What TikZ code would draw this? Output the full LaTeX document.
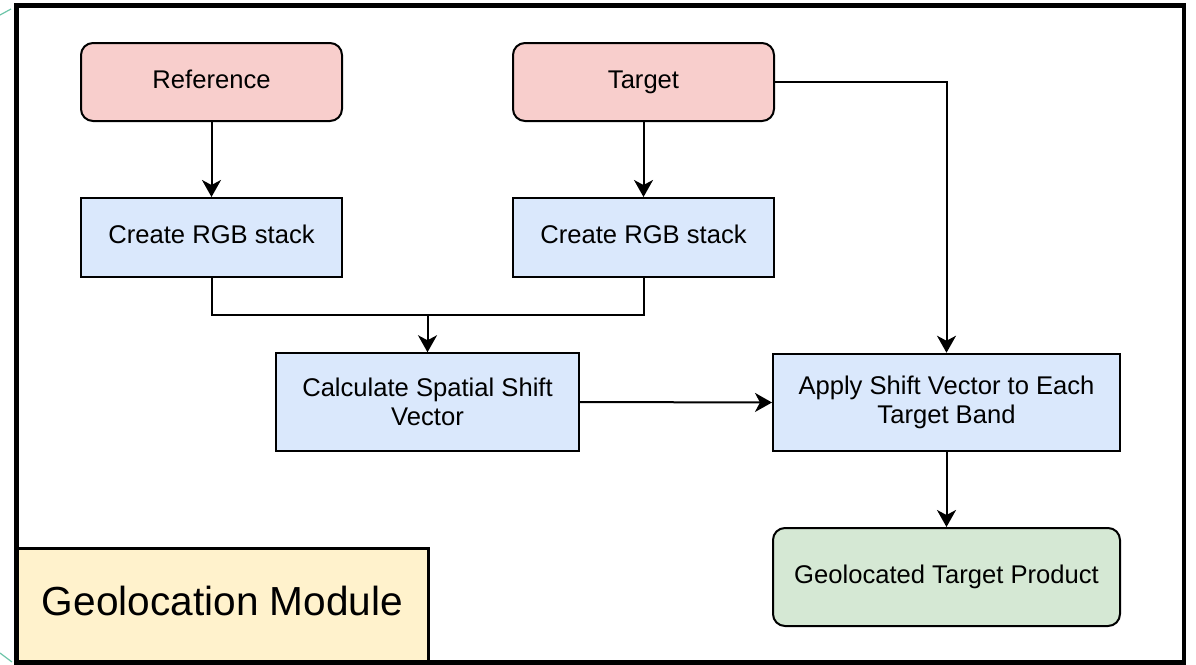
\documentclass[tikz,border=0pt]{standalone}
\usepackage{fontspec}
\setmainfont{Liberation Sans}
\usetikzlibrary{arrows.meta}
\definecolor{pinkfill}{HTML}{F8CECC}
\definecolor{bluefill}{HTML}{DAE8FC}
\definecolor{greenfill}{HTML}{D5E8D4}
\definecolor{yellowfill}{HTML}{FFF2CC}
\definecolor{tealline}{HTML}{6CC4A8}
\tikzset{
  basebox/.style={draw=black, line width=1pt, align=center, inner sep=2pt,
    font=\fontsize{12.8}{14.5}\selectfont},
  oneline/.style={text height=9.3pt, text depth=2.9pt},
  roundbox/.style={basebox, rounded corners=6pt},
  inbox/.style={roundbox, oneline, fill=pinkfill, minimum width=130.5pt, minimum height=39pt},
  rgbbox/.style={basebox, oneline, fill=bluefill, minimum width=130.5pt, minimum height=39.5pt},
  procbox/.style={basebox, fill=bluefill, minimum height=48.75pt},
  outbox/.style={roundbox, oneline, fill=greenfill, minimum width=173.5pt, minimum height=49pt},
  conn/.style={line width=1pt, draw=black},
  arr/.style={conn, -{Stealth[length=8.5pt, width=9.5pt, inset=2.5pt]}},
}
\begin{document}
\begin{tikzpicture}[x=0.5pt, y=-0.5pt]
\useasboundingbox (0,0) rectangle (1196,665);
% nodes
\node[inbox] (ref) at (211.5,82) {Reference};
\node[inbox] (tgt) at (643.5,82) {Target};
\node[rgbbox] (rgbL) at (211.5,237.5) {Create RGB stack};
\node[rgbbox] (rgbR) at (643.5,237.5) {Create RGB stack};
\node[procbox, minimum width=151.5pt] (calc) at (427.5,402) {Calculate Spatial Shift\\Vector};
\node[procbox, minimum width=173.5pt] (apply) at (946.5,402.5) {Apply Shift Vector to Each\\Target Band};
\node[outbox] (geo) at (946.5,577) {Geolocated Target Product};
\coordinate (merge) at (427.5,315);
% connectors
\draw[arr] (ref.south) -- (rgbL.north);
\draw[arr] (tgt.south) -- (rgbR.north);
\draw[conn] (rgbL.south) |- (merge);
\draw[conn] (rgbR.south) |- (merge);
\draw[arr] (merge) -- (calc.north);
\draw[arr] (tgt.east) -| (apply.north);
\draw[arr] (calc.east) -- (apply.west);
\draw[arr] (apply.south) -- (geo.north);
% module label
\node[draw=black, line width=1.5pt, fill=yellowfill, minimum width=205.5pt, minimum height=57.5pt,
  font=\fontsize{20.3}{24}\selectfont, text height=14.7pt, text depth=4.3pt] (module) at (222.5,605.5) {Geolocation Module};
% outer frame
\draw[line width=2.25pt, draw=black] (16.5,5.3) rectangle (1184,662.5);
% stray teal strokes at the left edge
\draw[tealline, line width=0.6pt] (0,15) -- (11,9);
\draw[tealline, line width=0.6pt] (0,653) -- (12,662);
\end{tikzpicture}
\end{document}
